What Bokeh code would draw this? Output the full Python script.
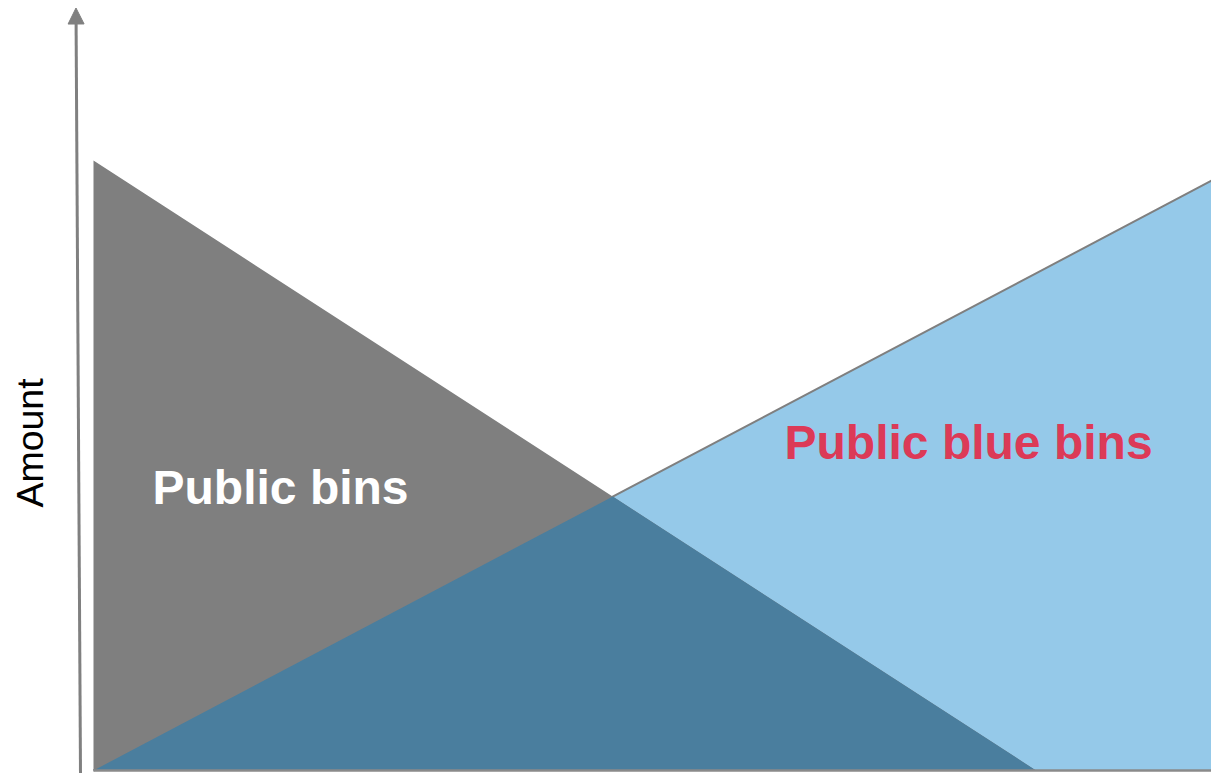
import numpy as np
from bokeh.plotting import figure
from bokeh.models import Range1d, Label, Arrow, NormalHead
from bokeh.embed import file_html
from bokeh.resources import INLINE

# Data (relative units)
xs = [0, 84.3, 100]
public_bins = [100, 0, 0]
public_blue_bins = [0, 81.5, 96.7]
y_label = "Amount"
label_public = "Public bins"
label_blue = "Public blue bins"

GRAY = "#7F7F7F"
LIGHT_BLUE = "#95C9E9"
OVERLAP = "#4A7E9E"
RED = "#DC3A57"

p = figure(width=1211, height=773, output_backend="svg", toolbar_location=None,
           x_range=Range1d(-8.318, 100), y_range=Range1d(-0.492, 126.23),
           x_axis_type=None, y_axis_type=None,
           min_border_left=0, min_border_right=0, min_border_top=0, min_border_bottom=0)
p.grid.visible = False
p.outline_line_color = None
p.background_fill_color = "white"

x_arr = np.array(xs, dtype=float)
g_arr = np.array(public_bins, dtype=float)
b_arr = np.array(public_blue_bins, dtype=float)

# blue area + edge
p.varea(x=xs, y1=0, y2=public_blue_bins, fill_color=LIGHT_BLUE)
p.line(x=xs, y=public_blue_bins, line_color=GRAY, line_width=2)
# gray area
p.varea(x=xs, y1=0, y2=public_bins, fill_color=GRAY)
# overlap (min of both series), include crossing point
d = g_arr - b_arr
pts = list(xs)
for i in range(len(xs) - 1):
    if d[i] * d[i + 1] < 0:
        t = d[i] / (d[i] - d[i + 1])
        pts.append(x_arr[i] + t * (x_arr[i + 1] - x_arr[i]))
pts = np.array(sorted(pts))
ov = np.minimum(np.interp(pts, x_arr, g_arr), np.interp(pts, x_arr, b_arr))
p.varea(x=pts, y1=0, y2=ov, fill_color=OVERLAP)

# baseline
p.line(x=[0, 100], y=[0, 0], line_color="#8A8A8A", line_width=2.5)

# y axis arrow
p.add_layout(Arrow(x_start=-1.163, y_start=-0.5, x_end=-1.565, y_end=125.0,
                   line_color="#808080", line_width=3,
                   end=NormalHead(size=16, fill_color="#808080", line_color="#808080")))

p.add_layout(Label(x=-5.72, y=43.1, text=y_label, angle=np.pi / 2,
                   text_font="Liberation Sans", text_font_size="37.5px",
                   text_color="black", text_baseline="alphabetic"))
p.add_layout(Label(x=5.28, y=46.39, text=label_public,
                   text_font="Liberation Sans", text_font_size="48px", text_font_style="bold",
                   text_color="white", text_baseline="alphabetic"))
p.add_layout(Label(x=61.81, y=53.77, text=label_blue,
                   text_font="Liberation Sans", text_font_size="48px", text_font_style="bold",
                   text_color=RED, text_baseline="alphabetic"))

open("out.html", "w").write(file_html(p, INLINE))
